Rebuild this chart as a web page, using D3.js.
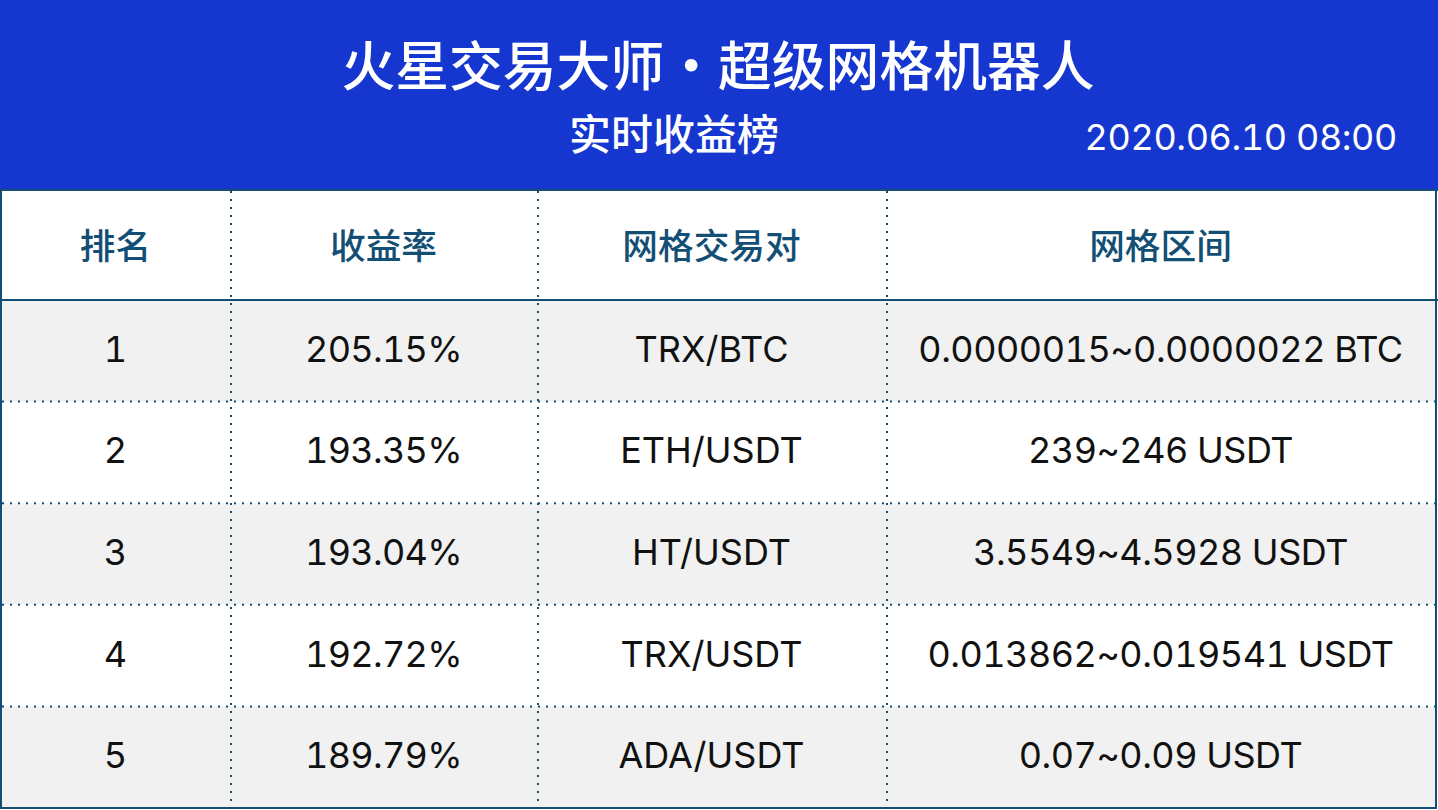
<!DOCTYPE html>
<html>
<head>
<meta charset="utf-8">
<script src="https://cdn.jsdelivr.net/npm/d3@7"></script>
<style>
  html, body { margin: 0; padding: 0; background: #fff; }
  svg { display: block; }
  text { font-family: "Inter", "Noto Sans CJK SC", sans-serif; font-variant-numeric: tabular-nums; }
  .cjk { font-family: "Noto Sans CJK SC", sans-serif; font-weight: 500; }
</style>
</head>
<body>
<svg id="chart"></svg>
<script>
const title = '火星交易大师・超级网格机器人';
const subtitle = '实时收益榜';
const stamp = '2020.06.10 08:00';
const columns = ['排名', '收益率', '网格交易对', '网格区间'];
const ranks = ['1', '2', '3', '4', '5'];
const yields = ['205.15%', '193.35%', '193.04%', '192.72%', '189.79%'];
const pairs = ['TRX/BTC', 'ETH/USDT', 'HT/USDT', 'TRX/USDT', 'ADA/USDT'];
const ranges = ['0.0000015~0.0000022 BTC', '239~246 USDT', '3.5549~4.5928 USDT', '0.013862~0.019541 USDT', '0.07~0.09 USDT'];

const width = 1438, height = 810;
const lineColor = '#134f75';
const colEdges = [2, 231, 538, 887, 1436];
const colSpacing = [0, -0.7, 0, -0.5];
const bodyTop = 300, bodyBottom = 808;

const svg = d3.select('#chart').attr('width', width).attr('height', height);

const y = d3.scaleBand().domain(ranks).range([bodyTop, bodyBottom]);
const colMid = i => (colEdges[i] + colEdges[i + 1]) / 2;

// banner
svg.append('rect').attr('width', width).attr('height', 190).attr('fill', '#1637cf');
svg.append('text').attr('class', 'cjk').attr('x', 718).attr('y', 86).attr('text-anchor', 'middle')
  .attr('font-size', 53.8).attr('fill', '#fff').text(title);
svg.append('text').attr('class', 'cjk').attr('x', 674).attr('y', 150).attr('text-anchor', 'middle')
  .attr('font-size', 42).attr('fill', '#fff').text(subtitle);
svg.append('text').attr('x', 1397).attr('y', 150).attr('text-anchor', 'end')
  .attr('font-size', 36).attr('letter-spacing', -0.4).attr('fill', '#fff').text(stamp);

// zebra rows
svg.selectAll('.band').data(ranks.filter((d, i) => i % 2 === 0)).enter().append('rect')
  .attr('class', 'band')
  .attr('x', colEdges[0]).attr('width', colEdges[4] - colEdges[0])
  .attr('y', d => y(d)).attr('height', y.bandwidth())
  .attr('fill', '#f1f1f1');

// header labels
svg.selectAll('.head').data(columns).enter().append('text')
  .attr('class', 'head cjk')
  .attr('x', (d, i) => colMid(i) - 1).attr('y', 259)
  .attr('text-anchor', 'middle').attr('font-size', 35.7).attr('fill', lineColor)
  .text(d => d);

// body cells
[ranks, yields, pairs, ranges].forEach((col, c) => {
  svg.selectAll('.col' + c).data(col).enter().append('text')
    .attr('class', 'col' + c)
    .attr('x', colMid(c) - 1)
    .attr('y', (d, i) => y(ranks[i]) + y.bandwidth() / 2 + 11)
    .attr('text-anchor', 'middle').attr('font-size', 36)
    .attr('letter-spacing', colSpacing[c]).attr('fill', '#111')
    .text(d => d);
});

// dotted grid
svg.selectAll('.vline').data(colEdges.slice(1, 4)).enter().append('line')
  .attr('class', 'vline')
  .attr('x1', d => d).attr('x2', d => d).attr('y1', 191).attr('y2', bodyBottom)
  .attr('stroke', lineColor).attr('stroke-width', 2).attr('stroke-dasharray', '2 6');
svg.selectAll('.hline').data(ranks.slice(1)).enter().append('line')
  .attr('class', 'hline')
  .attr('x1', 2).attr('x2', 1436).attr('y1', d => y(d)).attr('y2', d => y(d))
  .attr('stroke', lineColor).attr('stroke-width', 2).attr('stroke-dasharray', '2 6');

// solid rules and frame
[190, bodyTop].forEach(p => {
  svg.append('line').attr('x1', 0).attr('x2', width).attr('y1', p).attr('y2', p)
    .attr('stroke', lineColor).attr('stroke-width', 2);
});
svg.append('rect').attr('x', 1).attr('y', 190).attr('width', 1435).attr('height', 618)
  .attr('fill', 'none').attr('stroke', lineColor).attr('stroke-width', 2);
</script>
</body>
</html>
